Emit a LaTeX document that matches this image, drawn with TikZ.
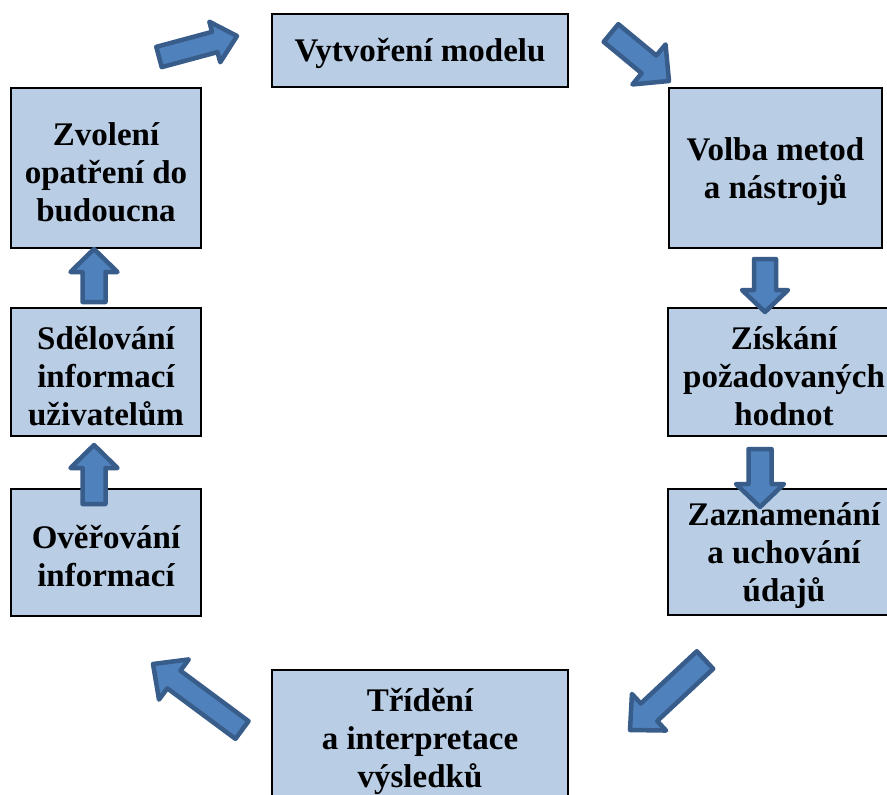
\documentclass[tikz,border=0pt]{standalone}
\usepackage{fontspec}
\setmainfont{Liberation Serif}
\usetikzlibrary{calc}
\definecolor{boxfill}{HTML}{B9CDE5}
\definecolor{arrfill}{HTML}{4F81BD}
\definecolor{arrline}{HTML}{385D8A}
\tikzset{
  box/.style={draw=black, line width=2.5pt, fill=boxfill, inner sep=0pt},
  boxtext/.style={align=center, inner sep=0pt, yshift=-4pt,
    font=\fontsize{33}{38}\selectfont\bfseries},
  barrow/.style={draw=arrline, fill=arrfill, line width=4.5pt, line join=round}
}
% #1 tail, #2 tip, #3 half shaft width, #4 half head width, #5 head length
\newcommand\blockarrow[5]{%
  \coordinate (ba-b) at ($(#2)!#5!(#1)$);
  \draw[barrow] ($(#1)!#3!90:(#2)$) -- ($(ba-b)!#3!90:(#2)$)
    -- ($(ba-b)!#4!90:(#2)$) -- (#2) -- ($(ba-b)!#4!-90:(#2)$)
    -- ($(ba-b)!#3!-90:(#2)$) -- ($(#1)!#3!-90:(#2)$) -- cycle;
}
\begin{document}
\begin{tikzpicture}[x=1pt,y=-1pt]
\useasboundingbox (0,0) rectangle (887,795);
\clip (0,0) rectangle (887,795);
\fill[white] (0,0) rectangle (887,795);

\node[box, minimum width=296pt, minimum height=73pt,
  label={[boxtext, yshift=1pt]center:{Vytvoření modelu}}] (vyt) at (420,50.5) {};
\node[box, minimum width=213pt, minimum height=160pt,
  label={[boxtext]center:{Volba metod\\a nástrojů}}] (vol) at (775.5,168) {};
\node[box, minimum width=232pt, minimum height=128pt,
  label={[boxtext]center:{Získání\\požadovaných\\hodnot}}] (zis) at (784,372) {};
\node[box, minimum width=232pt, minimum height=126pt,
  label={[boxtext]center:{Zaznamenání\\a uchování\\údajů}}] (zaz) at (784,552) {};
\node[box, minimum width=296pt, minimum height=134pt,
  label={[boxtext]center:{Třídění\\a interpretace\\výsledků}}] (tri) at (420,737) {};
\node[box, minimum width=190pt, minimum height=127pt,
  label={[boxtext]center:{Ověřování\\informací}}] (ove) at (106,552.5) {};
\node[box, minimum width=190pt, minimum height=128pt,
  label={[boxtext]center:{Sdělování\\informací\\uživatelům}}] (sde) at (106,372) {};
\node[box, minimum width=190pt, minimum height=160pt,
  label={[boxtext]center:{Zvolení\\opatření do\\budoucna}}] (zvo) at (106,168) {};

\coordinate (a1t) at (159,57);  \coordinate (a1h) at (237,36);
\coordinate (a2t) at (611,33);  \coordinate (a2h) at (669,81);
\coordinate (a3t) at (765,259); \coordinate (a3h) at (765,312);
\coordinate (a4t) at (760,449); \coordinate (a4h) at (760,507);
\coordinate (a5t) at (705,660); \coordinate (a5h) at (630,730);
\coordinate (a6t) at (242,730); \coordinate (a6h) at (153,664);
\coordinate (a7t) at (94,504);  \coordinate (a7h) at (94,445);
\coordinate (a8t) at (94,302);  \coordinate (a8h) at (94,249);

\blockarrow{a1t}{a1h}{10.5pt}{21pt}{23pt}
\blockarrow{a2t}{a2h}{11.5pt}{26pt}{26pt}
\blockarrow{a3t}{a3h}{11pt}{23pt}{22pt}
\blockarrow{a4t}{a4h}{11.5pt}{24pt}{23pt}
\blockarrow{a5t}{a5h}{12pt}{25pt}{26pt}
\blockarrow{a6t}{a6h}{11pt}{25pt}{26pt}
\blockarrow{a7t}{a7h}{11.5pt}{23.5pt}{23pt}
\blockarrow{a8t}{a8h}{11.5pt}{23.5pt}{23pt}
\end{tikzpicture}
\end{document}
